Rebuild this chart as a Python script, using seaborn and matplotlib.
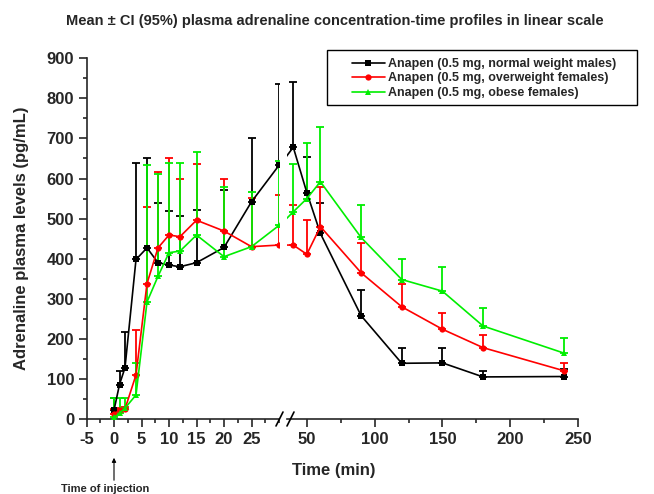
import numpy as np
import pandas as pd
import matplotlib
matplotlib.use("Agg")
import matplotlib.pyplot as plt
import seaborn as sns
from matplotlib.lines import Line2D
from matplotlib.patches import Rectangle, FancyArrowPatch
from matplotlib.ticker import MultipleLocator

# Data
time = [0, 1, 2, 4, 6, 8, 10, 12, 15, 20, 25, 30, 40, 50, 60, 90, 120, 150, 180, 240]

groups = ['Anapen (0.5 mg, normal weight males)',
          'Anapen (0.5 mg, overweight females)',
          'Anapen (0.5 mg, obese females)']

normal_mean = [22, 86, 128, 398, 427, 390, 384, 380, 390, 428, 542, 633, 678, 565, 463, 258, 139, 140, 105, 106]
normal_upper = [52, 121, 218, 639, 650, 539, 519, 506, 521, 571, 700, 837, 841, 654, 538, 322, 177, 177, 120, 124]

over_mean = [12, 22, 25, 110, 338, 427, 459, 455, 496, 469, 430, 434, 434, 411, 480, 365, 280, 224, 178, 120]
over_upper = [24, 27, 30, 222, 528, 617, 650, 598, 637, 598, 552, 558, 534, 496, 578, 440, 337, 265, 209, 140]

obese_mean = [4, 14, 27, 60, 292, 356, 415, 419, 459, 405, 430, 483, 517, 550, 592, 453, 348, 319, 232, 164]
obese_upper = [52, 52, 52, 140, 633, 611, 640, 639, 665, 579, 567, 644, 637, 689, 729, 535, 399, 380, 276, 201]

colors = ['black', '#ff0000', '#00ee00']
marker_list = ['s', 'o', '^']

means = [normal_mean, over_mean, obese_mean]
uppers = [normal_upper, over_upper, obese_upper]

df = pd.concat([pd.DataFrame({'time': time, 'conc': m, 'group': g}) for g, m in zip(groups, means)],
               ignore_index=True)

# Setup
sns.set_style("ticks")
plt.rcParams['font.family'] = ['Liberation Sans', 'DejaVu Sans']
plt.rcParams['font.weight'] = 'bold'
plt.rcParams['axes.linewidth'] = 1.2
plt.rcParams['axes.unicode_minus'] = False

W, H = 654, 494
fig = plt.figure(figsize=(W / 100, H / 100), dpi=100)
bottom = 1 - 419 / H
height = (419 - 58.3) / H
ax1 = fig.add_axes([86.5 / W, bottom, 192.5 / W, height])
ax2 = fig.add_axes([286.5 / W, bottom, (578 - 286.5) / W, height])

palette = dict(zip(groups, colors))
markers = dict(zip(groups, marker_list))

for ax in (ax1, ax2):
    for g, m, u, c in zip(groups, means, uppers, colors):
        m = np.array(m)
        u = np.array(u)
        ax.errorbar(time, m, yerr=[np.zeros_like(m), u - m], fmt='none', ecolor=c,
                    elinewidth=1.3, capsize=3, capthick=1.3, zorder=2)
    sns.lineplot(data=df, x='time', y='conc', hue='group', style='group', hue_order=groups,
                 style_order=groups, palette=palette, markers=markers, dashes=False,
                 markersize=4.5, markeredgewidth=0, linewidth=1.2, errorbar=None,
                 legend=(ax is ax1), ax=ax, zorder=3)
    ax.set_ylim(0, 900)
    ax.set_xlabel('')
    ax.set_ylabel('')
    ax.tick_params(axis='both', which='major', direction='out', length=6, width=1.2,
                   labelsize=12, pad=3)
    ax.tick_params(axis='both', which='minor', direction='out', length=3, width=1.2)
    sns.despine(ax=ax)

ax1.set_xlim(-5, 30)
ax1.set_xticks([-5, 0, 5, 10, 15, 20, 25])
ax1.xaxis.set_minor_locator(MultipleLocator(2.5))
ax1.set_yticks(range(0, 901, 100))
ax1.yaxis.set_minor_locator(MultipleLocator(50))

ax2.set_xlim(35, 250)
ax2.set_xticks([50, 100, 150, 200, 250])
ax2.xaxis.set_minor_locator(MultipleLocator(25))
ax2.spines['left'].set_visible(False)
ax2.tick_params(axis='y', which='both', left=False, labelleft=False)

for ax in (ax1, ax2):
    for lab in ax.get_xticklabels() + ax.get_yticklabels():
        lab.set_fontweight('bold')

# Legend (frame drawn separately so it can be wider than the entries)
handles, labels = ax1.get_legend_handles_labels()
ax1.get_legend().remove()
fig.legend(handles, labels, loc='upper left', bbox_to_anchor=(347 / W, 1 - 53 / H),
           frameon=False, prop={'size': 9, 'weight': 'bold'}, handlelength=2.6,
           borderaxespad=0, labelspacing=0.2, borderpad=0.4, handletextpad=0.3)
fig.add_artist(Rectangle((327 / W, 1 - 105 / H), 310 / W, 55 / H, transform=fig.transFigure,
                         fill=False, edgecolor='black', lw=1.0))

# Axis break marks
for x0 in (276, 287):
    fig.add_artist(Line2D([x0 / W, (x0 + 7) / W], [1 - 426 / H, 1 - 412 / H],
                          transform=fig.transFigure, color='black', lw=1.2))

# Texts
fig.text(335 / W, 1 - 21 / H,
         'Mean \u00b1 CI (95%) plasma adrenaline concentration-time profiles in linear scale',
         ha='center', va='center', fontsize=10.5, fontweight='bold')
fig.text(334 / W, 1 - 470 / H, 'Time (min)', ha='center', va='center', fontsize=12,
         fontweight='bold')
fig.text(22 / W, 1 - 238 / H, 'Adrenaline plasma levels (pg/mL)', ha='center', va='center',
         rotation=90, fontsize=12, fontweight='bold')
fig.text(105 / W, 1 - 489 / H, 'Time of injection', ha='center', va='center', fontsize=8,
         fontweight='bold')
fig.add_artist(FancyArrowPatch((114 / W, 1 - 483 / H), (114 / W, 1 - 455 / H),
                               transform=fig.transFigure, arrowstyle='-|>',
                               mutation_scale=6, color='black', lw=0.8))

fig.savefig('out.png', dpi=100)
